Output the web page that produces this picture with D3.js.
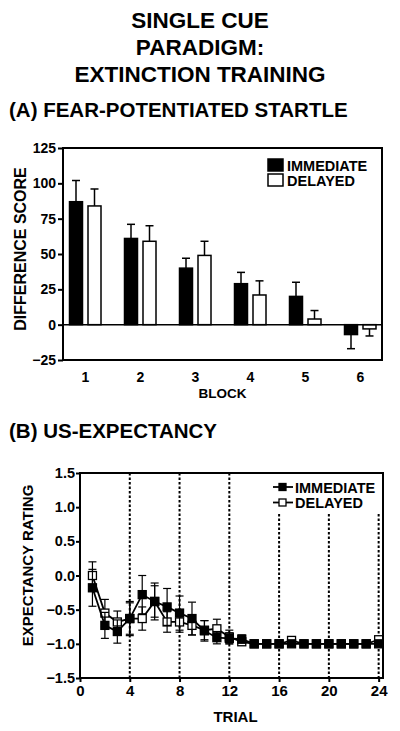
<!DOCTYPE html>
<html><head><meta charset="utf-8">
<script src="https://cdn.jsdelivr.net/npm/d3@7"></script>
<style>body{margin:0;background:#fff}svg{display:block}text{font-family:"Liberation Sans",Arial,Helvetica,sans-serif;font-weight:bold;fill:#000}</style>
</head><body><svg id="c" width="400" height="731"></svg>
<script>
// ---- Data ----
const titleLines = ["SINGLE CUE", "PARADIGM:", "EXTINCTION TRAINING"];
const panelA = "(A) FEAR-POTENTIATED STARTLE";
const panelB = "(B) US-EXPECTANCY";
const seriesNames = ["IMMEDIATE", "DELAYED"];

const blocks = [1, 2, 3, 4, 5, 6];
const startleImmediate = [87, 61, 40, 29, 20, -7];
const startleImmediateErr = [15, 10, 7, 8, 10, 10];
const startleDelayed = [84, 59, 49, 21, 4, -3];
const startleDelayedErr = [12, 11, 10, 10, 6, 5];
const startleTicks = [-25, 0, 25, 50, 75, 100, 125];

const trials = [1,2,3,4,5,6,7,8,9,10,11,12,13,14,15,16,17,18,19,20,21,22,23,24];
const expImmediate = [-0.18,-0.73,-0.82,-0.63,-0.28,-0.38,-0.46,-0.55,-0.63,-0.81,-0.91,-0.92,-0.93,-1,-1,-1,-1,-1,-1,-1,-1,-1,-1,-1];
const expImmediateErr = [0.27,0.19,0.17,0.25,0.28,0.27,0.27,0.25,0.24,0.15,0.09,0.08,0.06,0,0,0,0,0,0,0,0,0,0,0];
const expDelayed = [0.0,-0.55,-0.68,-0.63,-0.63,-0.38,-0.68,-0.68,-0.73,-0.8,-0.78,-0.9,-0.97,-1,-1,-1,-0.95,-1,-1,-1,-1,-1,-1,-0.94];
const expDelayedErr = [0.2,0.2,0.16,0.23,0.17,0.23,0.15,0.15,0.14,0.14,0.14,0.1,0.05,0,0,0,0,0,0,0,0,0,0,0];
const expYTicks = [-1.5,-1.0,-0.5,0.0,0.5,1.0,1.5];
const expXTicks = [0,4,8,12,16,20,24];
const dottedTrials = [4,8,12,16,20,24];

const svg = d3.select("#c");
const FONT = "Liberation Sans, Arial, sans-serif";

// ---- Titles ----
svg.selectAll("text.title").data(titleLines).join("text")
  .attr("class","title").attr("x",200).attr("y",(d,i)=>28+i*27)
  .attr("text-anchor","middle").style("font-size","22.5px").text(d=>d);
svg.append("text").attr("x",9).attr("y",117).style("font-size","20.5px").text(panelA);
svg.append("text").attr("x",9).attr("y",438).style("font-size","20.5px").text(panelB);

// ---- Panel A ----
const A = {l:63, r:382, t:148, b:360};
const xA = d3.scalePoint().domain(blocks).range([A.l, A.r]).padding(0.4);
const yA = d3.scaleLinear().domain([-25,125]).range([A.b, A.t]);
const gA = svg.append("g");
const bw = 13;
const barData = [];
blocks.forEach((b,i)=>{
  barData.push({b, v:startleImmediate[i], e:startleImmediateErr[i], s:0});
  barData.push({b, v:startleDelayed[i], e:startleDelayedErr[i], s:1});
});
const bx = d => xA(d.b) + (d.s===0 ? -9 - bw/2 : 9.5 - bw/2);
const tip = d => yA(d.v + (d.v>=0?d.e:-d.e));
gA.selectAll("line.eb").data(barData).join("line").attr("class","eb")
  .attr("x1",d=>bx(d)+bw/2).attr("x2",d=>bx(d)+bw/2)
  .attr("y1",d=>yA(d.v)).attr("y2",tip)
  .attr("stroke","#000").attr("stroke-width",1.5);
gA.selectAll("line.ec").data(barData).join("line").attr("class","ec")
  .attr("x1",d=>bx(d)+bw/2-4).attr("x2",d=>bx(d)+bw/2+4)
  .attr("y1",tip).attr("y2",tip)
  .attr("stroke","#000").attr("stroke-width",1.5);
gA.selectAll("rect.bar").data(barData).join("rect").attr("class","bar")
  .attr("x",bx).attr("width",bw)
  .attr("y",d=>yA(Math.max(0,d.v))).attr("height",d=>Math.abs(yA(d.v)-yA(0)))
  .attr("fill",d=>d.s===0?"#000":"#fff").attr("stroke","#000").attr("stroke-width",1.5);
gA.append("line").attr("x1",A.l).attr("x2",A.r).attr("y1",yA(0)).attr("y2",yA(0)).attr("stroke","#000").attr("stroke-width",1.5);
gA.append("rect").attr("x",A.l).attr("y",A.t).attr("width",A.r-A.l).attr("height",A.b-A.t)
  .attr("fill","none").attr("stroke","#000").attr("stroke-width",2);
const axA = gA.append("g").attr("transform",`translate(${A.l},0)`)
  .call(d3.axisLeft(yA).tickValues(startleTicks).tickSize(5).tickPadding(2).tickFormat(d3.format("d")));
axA.select(".domain").remove();
axA.selectAll("line").attr("stroke-width",2);
axA.selectAll("text").style("font-size","14px").style("font-family",FONT).style("font-weight","bold");
const axAx = gA.append("g").attr("transform",`translate(0,${A.b})`)
  .call(d3.axisBottom(xA).tickSize(0).tickPadding(12));
axAx.select(".domain").remove();
axAx.selectAll("text").style("font-size","14px").style("font-family",FONT).style("font-weight","bold");
svg.append("text").attr("x",(A.l+A.r)/2).attr("y",398).attr("text-anchor","middle").style("font-size","13.5px").text("BLOCK");
svg.append("text").attr("transform",`translate(26,${(A.t+A.b)/2 - 5}) rotate(-90)`).attr("text-anchor","middle").style("font-size","16px").text("DIFFERENCE SCORE");
const legA = gA.append("g");
seriesNames.forEach((n,i)=>{
  legA.append("rect").attr("x",268).attr("y",159+i*15).attr("width",15).attr("height",12)
    .attr("fill",i===0?"#000":"#fff").attr("stroke","#000").attr("stroke-width",1.5);
  legA.append("text").attr("x",287).attr("y",171+i*15).style("font-size","14.5px").text(n);
});

// ---- Panel B ----
const B = {l:80, r:383, t:473, b:678};
const xB = d3.scaleLinear().domain([0,24.35]).range([B.l, B.r]);
const yB = d3.scaleLinear().domain([-1.5,1.5]).range([B.b, B.t]);
const gB = svg.append("g");
gB.selectAll("line.dot").data(dottedTrials).join("line").attr("class","dot")
  .attr("x1",d=>xB(d)).attr("x2",d=>xB(d))
  .attr("y1",d=>d<=12?B.t:yB(0.9)).attr("y2",B.b)
  .attr("stroke","#000").attr("stroke-width",2).attr("stroke-dasharray","2.5,2");
gB.append("rect").attr("x",B.l).attr("y",B.t).attr("width",B.r-B.l).attr("height",B.b-B.t)
  .attr("fill","none").attr("stroke","#000").attr("stroke-width",2);
const axBy = gB.append("g").attr("transform",`translate(${B.l},0)`)
  .call(d3.axisLeft(yB).tickValues(expYTicks).tickSize(4).tickPadding(1).tickFormat(d3.format(".1f")));
axBy.select(".domain").remove();
axBy.selectAll("line").attr("stroke-width",2);
axBy.selectAll("text").style("font-size","14.5px").style("font-family",FONT).style("font-weight","bold");
const axBx = gB.append("g").attr("transform",`translate(0,${B.b})`)
  .call(d3.axisBottom(xB).tickValues(expXTicks).tickSize(4).tickPadding(3).tickFormat(d3.format("d")));
axBx.select(".domain").remove();
axBx.selectAll("line").attr("stroke-width",2);
axBx.selectAll("text").style("font-size","15px").style("font-family",FONT).style("font-weight","bold");
svg.append("text").attr("x",(B.l+B.r)/2+4).attr("y",722).attr("text-anchor","middle").style("font-size","15px").text("TRIAL");
svg.append("text").attr("transform",`translate(33,${(B.t+B.b)/2-10}) rotate(-90)`).attr("text-anchor","middle").style("font-size","15px").text("EXPECTANCY RATING");

const series = [
  {vals:expDelayed, errs:expDelayedErr, fill:"#fff"},
  {vals:expImmediate, errs:expImmediateErr, fill:"#000"}
];
const line = d3.line().x((d,i)=>xB(trials[i])).y(d=>yB(d));
series.forEach(s=>{
  const g = gB.append("g");
  const pts = trials.map((t,i)=>({t, v:s.vals[i], e:s.errs[i]})).filter(d=>d.e>0);
  g.selectAll("line.v").data(pts).join("line").attr("x1",d=>xB(d.t)).attr("x2",d=>xB(d.t))
    .attr("y1",d=>yB(d.v-d.e)).attr("y2",d=>yB(d.v+d.e)).attr("stroke","#000").attr("stroke-width",1.2);
  g.selectAll("line.c1").data(pts).join("line").attr("x1",d=>xB(d.t)-4).attr("x2",d=>xB(d.t)+4)
    .attr("y1",d=>yB(d.v+d.e)).attr("y2",d=>yB(d.v+d.e)).attr("stroke","#000").attr("stroke-width",1.2);
  g.selectAll("line.c2").data(pts).join("line").attr("x1",d=>xB(d.t)-4).attr("x2",d=>xB(d.t)+4)
    .attr("y1",d=>yB(d.v-d.e)).attr("y2",d=>yB(d.v-d.e)).attr("stroke","#000").attr("stroke-width",1.2);
  g.append("path").attr("d",line(s.vals)).attr("fill","none").attr("stroke","#000").attr("stroke-width",1.8);
  g.selectAll("rect").data(s.vals).join("rect")
    .attr("x",(d,i)=>xB(trials[i])-4).attr("y",d=>yB(d)-4).attr("width",8).attr("height",8)
    .attr("fill",s.fill).attr("stroke","#000").attr("stroke-width",1.3);
});
seriesNames.forEach((n,i)=>{
  const y = 487 + i*15.5;
  gB.append("line").attr("x1",273).attr("x2",293).attr("y1",y).attr("y2",y).attr("stroke","#000").attr("stroke-width",1.8);
  gB.append("rect").attr("x",279).attr("y",y-3.5).attr("width",7).attr("height",7)
    .attr("fill",i===0?"#000":"#fff").attr("stroke","#000").attr("stroke-width",1.3);
  gB.append("text").attr("x",295).attr("y",y+5.5).style("font-size","14.5px").text(n);
});
</script></body></html>
